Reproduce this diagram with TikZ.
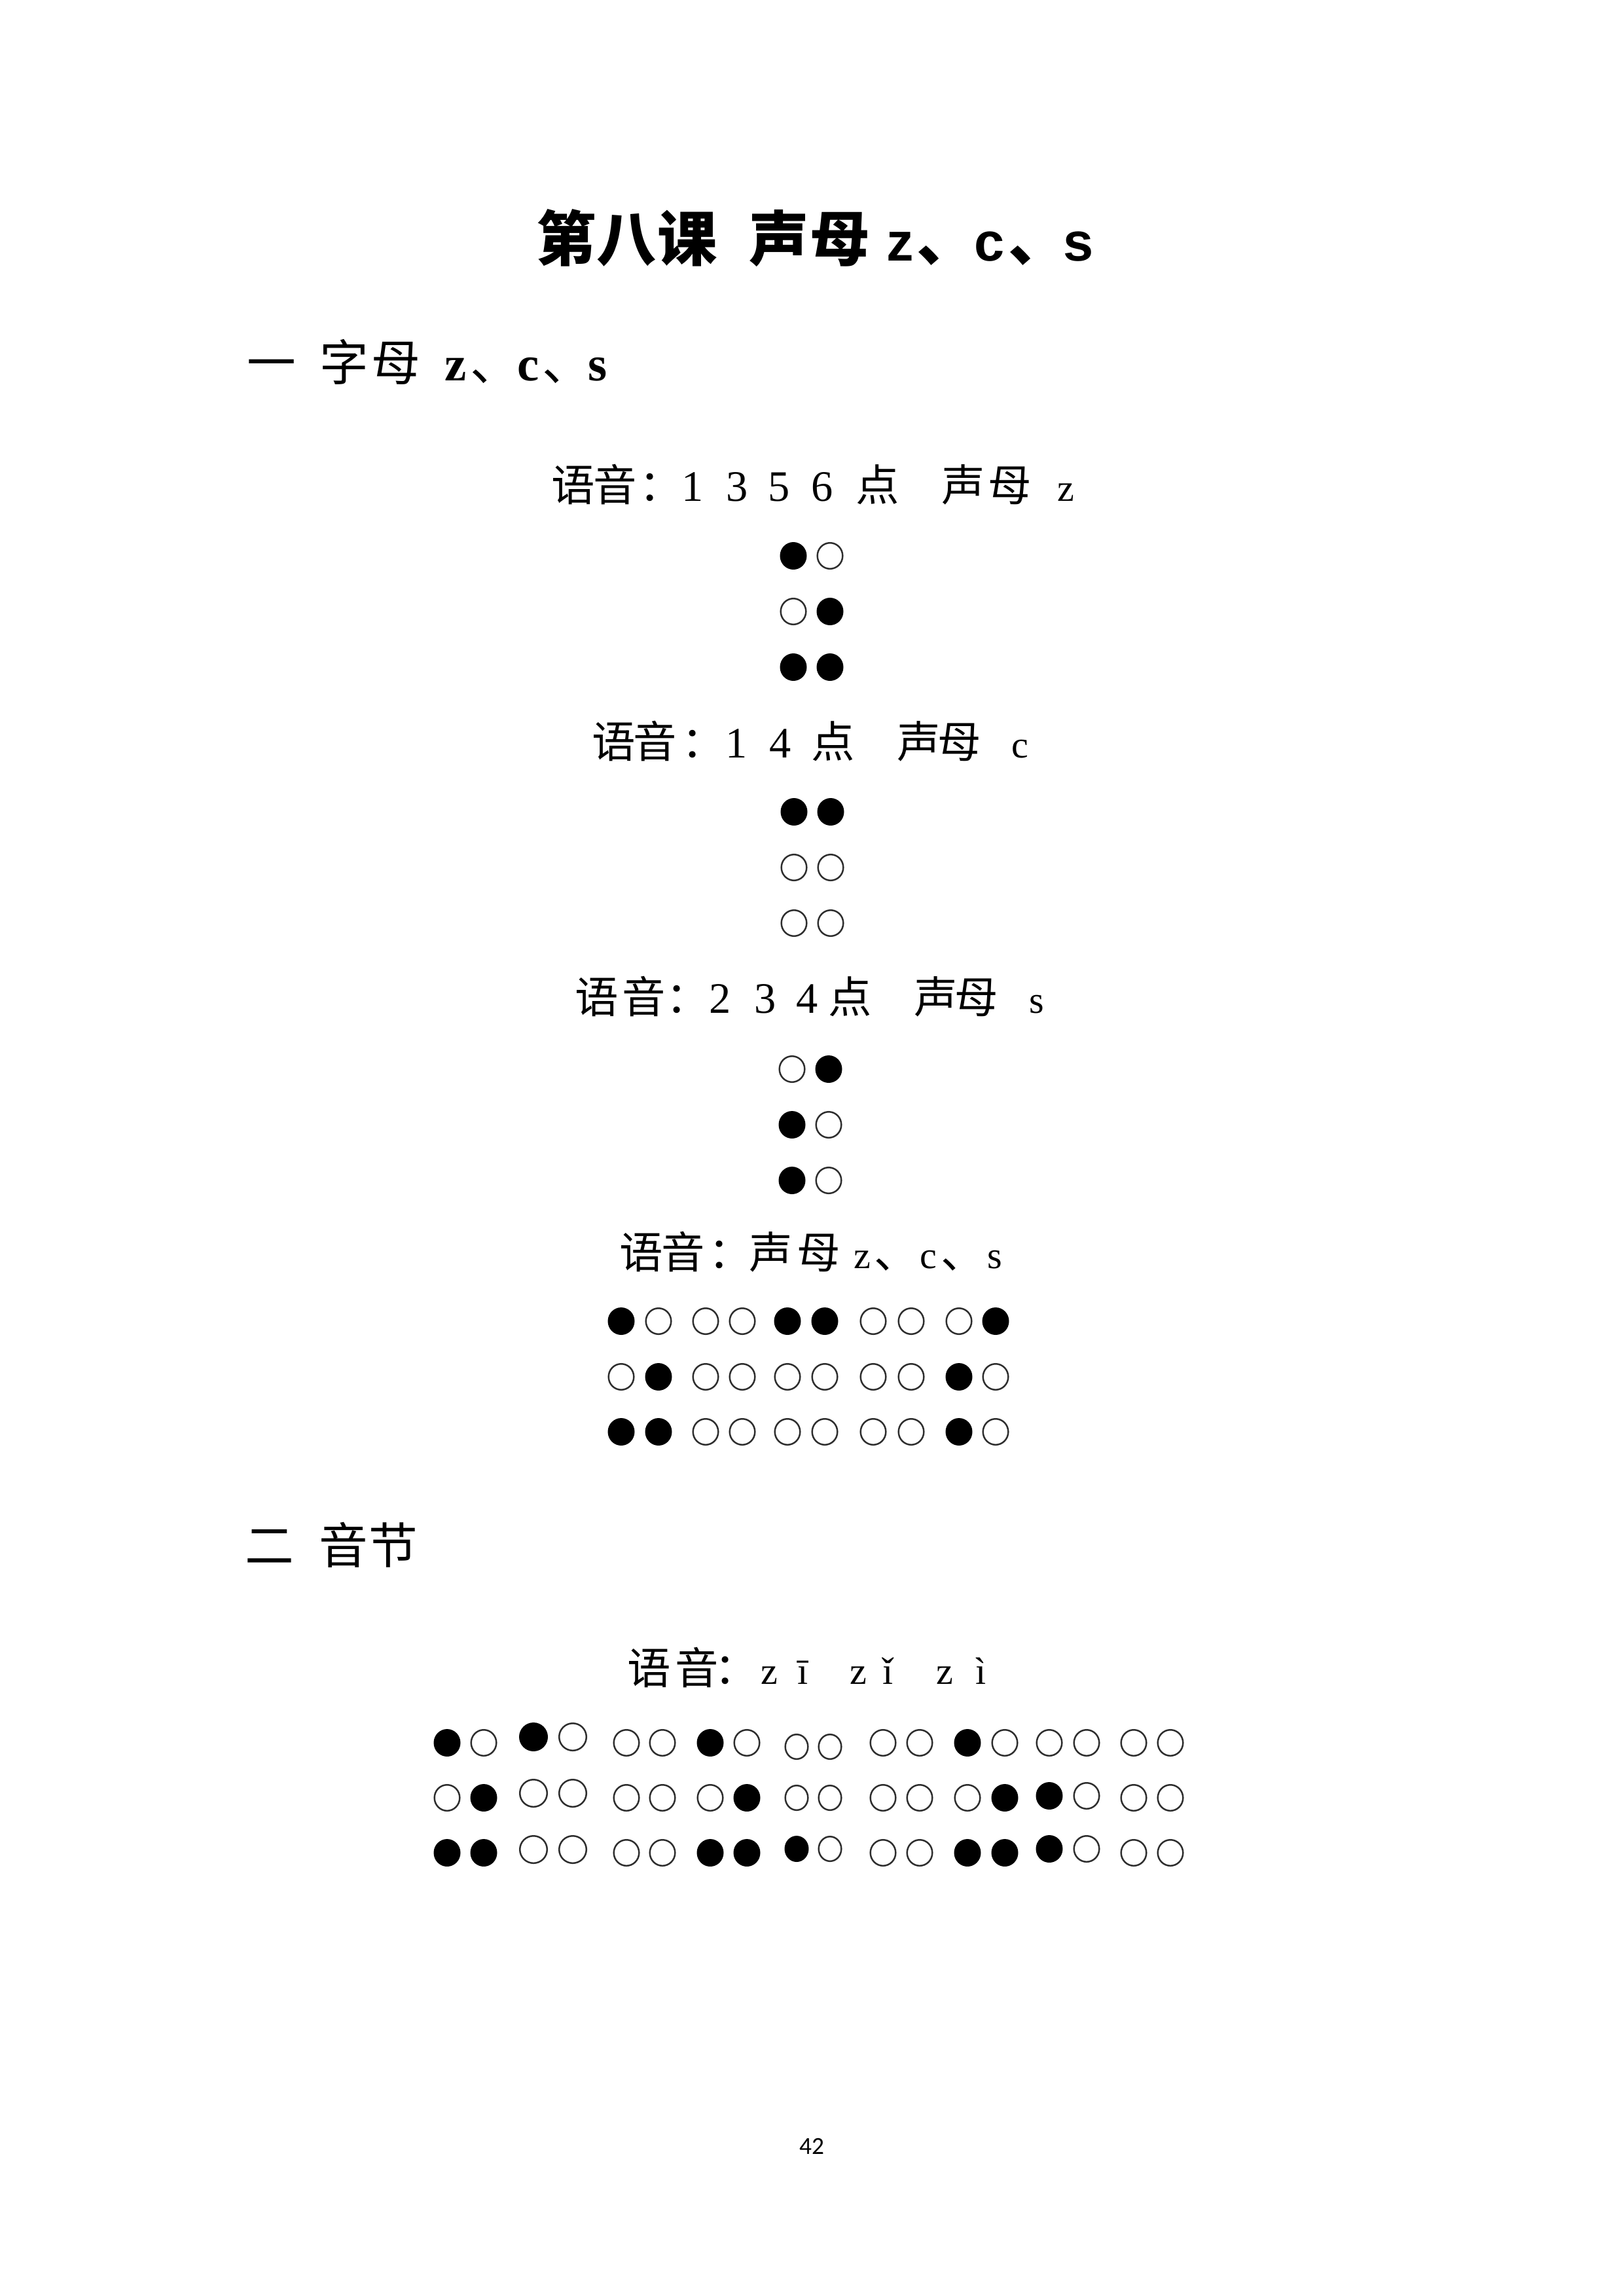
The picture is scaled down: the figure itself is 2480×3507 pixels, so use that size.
\documentclass[tikz,border=0pt]{standalone}
\usepackage{fontspec}
\newfontfamily\cjk{Noto Sans CJK SC}
\newfontfamily\lser{Liberation Serif}
\newfontfamily\lsans{Liberation Sans}
\newfontfamily\carl{Carlito}
\newcommand\szT{\fontsize{22}{26}\selectfont}
\newcommand\szH{\fontsize{18}{22}\selectfont}
\newcommand\szB{\fontsize{16}{19}\selectfont}
\newcommand\szL{\fontsize{14}{17}\selectfont}
\def\rx{20.5}\def\ry{21}
\newcommand\bdot[3]{\ifnum#3=1 \fill[black] (#1,#2) ellipse [x radius=\rx, y radius=\ry];\else \draw[empt] (#1,#2) ellipse [x radius=\rx-1.2, y radius=\ry-1.2];\fi}
\newcommand\bcell[6]{\foreach \pa/\pb/\pc/\pd/\pe/\pf in {#6}{%
  \bdot{#1}{#3}{\pa}\bdot{#2}{#3}{\pb}\bdot{#1}{#4}{\pc}\bdot{#2}{#4}{\pd}\bdot{#1}{#5}{\pe}\bdot{#2}{#5}{\pf}}}
\tikzset{
  tok/.style={anchor=base,inner sep=0pt,outer sep=0pt},
  empt/.style={draw=black!82,line width=0.6pt},
  titlef/.style={font=\cjk\bfseries\szT},
  headf/.style={font=\cjk\szH},
  bodyf/.style={font=\cjk\szB}
}
\begin{document}
\begin{tikzpicture}[x=0.0084677cm,y=-0.0084677cm]
\fill[white] (0,0) rectangle (2480,3507);
\useasboundingbox (0,0) rectangle (2480,3507);
% title
\foreach \t/\x [count=\i] in {第/865,八/957,课/1050,声/1190,母/1283,{\lsans\bfseries\fontsize{20}{24}\selectfont z}/1375,、/1446,{\lsans\bfseries\fontsize{20}{24}\selectfont c}/1512,、/1586,{\lsans\bfseries\fontsize{20}{24}\selectfont s}/1648}
  \node[tok,titlef] (T\i) at (\x,398) {\t};
% heading 1
\foreach \t/\x [count=\i] in {一/415,字/526,母/605,{\lser\bfseries z}/696,、/756,{\lser\bfseries c}/807,、/866,{\lser\bfseries s}/913}
  \node[tok,headf] (H\i) at (\x,581) {\t};
% line 1
\foreach \t/\x [count=\i] in {语/876,音/940,：/1010,{\lser 1}/1058,{\lser 3}/1126,{\lser 5}/1190,{\lser 6}/1256,点/1341,声/1472,母/1543,{\lser\szL z}/1628}
  \node[tok,bodyf] (A\i) at (\x,765) {\t};
\bcell{1212}{1268}{849}{934}{1019}{1/0/0/1/1/1}
% line 2
\foreach \t/\x [count=\i] in {语/938,音/1001,：/1075,{\lser 1}/1125,{\lser 4}/1192,点/1273,声/1404,母/1466,{\lser\szL c}/1558}
  \node[tok,bodyf] (B\i) at (\x,1157) {\t};
\bcell{1213}{1269}{1240}{1325}{1410}{1/1/0/0/0/0}
% line 3
\foreach \t/\x [count=\i] in {语/912,音/984,：/1051,{\lser 2}/1100,{\lser 3}/1169,{\lser 4}/1233,点/1299,声/1430,母/1492,{\lser\szL s}/1584}
  \node[tok,bodyf] (C\i) at (\x,1547) {\t};
\bcell{1210}{1266}{1633}{1718}{1803}{0/1/1/0/1/0}
% line 4
\foreach \t/\x [count=\i] in {语/980,音/1044,：/1116,声/1178,母/1251,{\lser\szL z}/1317,、/1369,{\lser\szL c}/1418,、/1471,{\lser\szL s}/1520}
  \node[tok,bodyf] (D\i) at (\x,1937) {\t};
\bcell{949}{1006}{2018}{2103}{2187}{1/0/0/1/1/1}
\bcell{1078}{1134}{2018}{2103}{2187}{0/0/0/0/0/0}
\bcell{1203}{1260}{2018}{2103}{2187}{1/1/0/0/0/0}
\bcell{1334}{1392}{2018}{2103}{2187}{0/0/0/0/0/0}
\bcell{1465}{1521}{2018}{2103}{2187}{0/1/1/0/1/0}
% heading 2
\foreach \t/\x [count=\i] in {二/412,音/525,节/601}
  \node[tok,headf] (G\i) at (\x,2388) {\t};
% line 5
\foreach \t/\x [count=\i] in {语/992,音/1065,：/1125,{\lser\szL z}/1175,{\lser\szL ī}/1227,{\lser\szL z}/1311,{\lser\szL ǐ}/1357,{\lser\szL z}/1443,{\lser\szL ì}/1499}
  \node[tok,bodyf] (E\i) at (\x,2572) {\t};
\bcell{683}{739}{2662}{2746}{2830}{1/0/0/1/1/1}
\def\rx{22}\def\ry{22}
\bcell{815}{875}{2653}{2739}{2825}{1/0/0/0/0/0}
\def\rx{20.5}\def\ry{21}
\bcell{957}{1012}{2662}{2746}{2830}{0/0/0/0/0/0}
\bcell{1085}{1141}{2662}{2746}{2830}{1/0/0/1/1/1}
\def\rx{18.5}\def\ry{20}
\bcell{1217}{1268}{2668}{2746}{2824}{0/0/0/0/1/0}
\def\rx{20.5}\def\ry{21}
\bcell{1349}{1405}{2662}{2746}{2830}{0/0/0/0/0/0}
\bcell{1478}{1535}{2662}{2746}{2830}{1/0/0/1/1/1}
\bcell{1603}{1660}{2662}{2743}{2824}{0/0/1/0/1/0}
\bcell{1732}{1788}{2662}{2746}{2830}{0/0/0/0/0/0}
% page number
\node[tok,font=\carl\fontsize{9}{11}\selectfont] (P) at (1240,3290) {42};
\end{tikzpicture}
\end{document}
